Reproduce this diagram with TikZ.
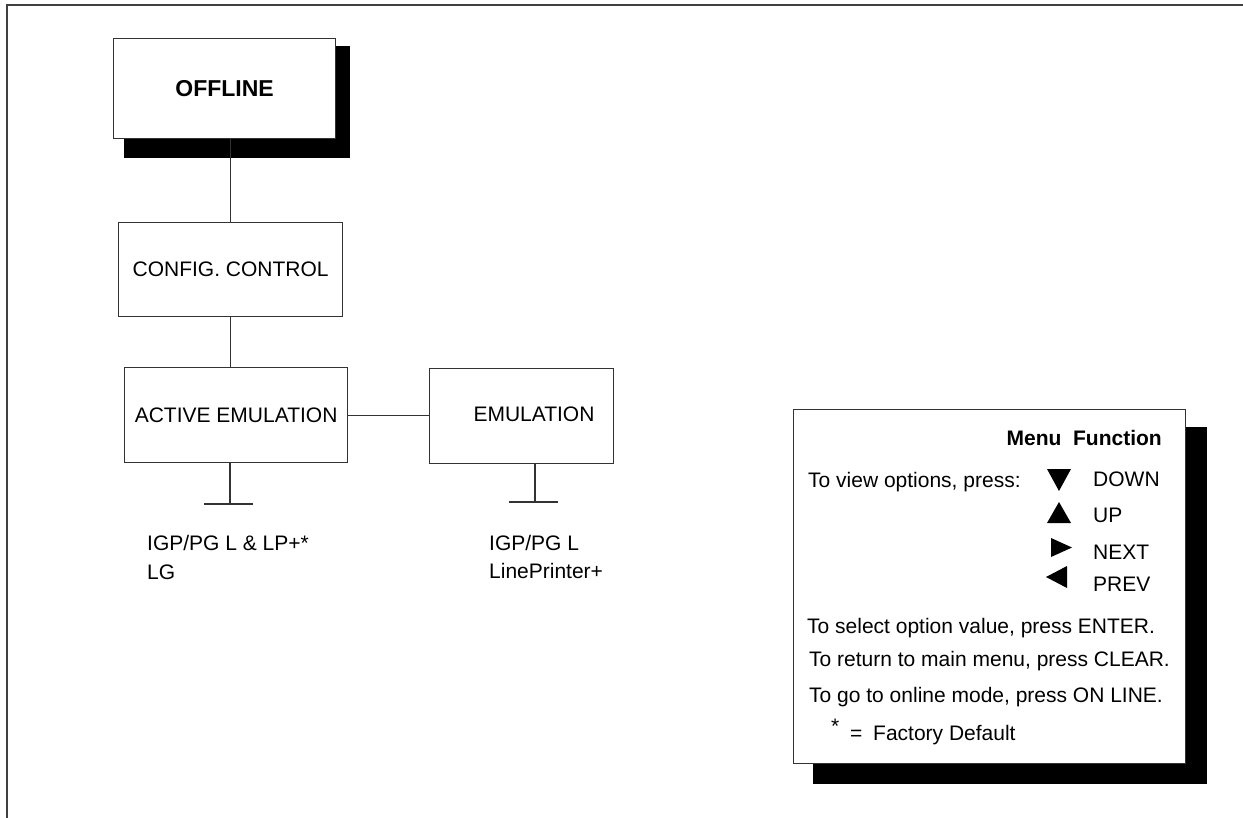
\documentclass[tikz,border=0pt]{standalone}
\usepackage{fontspec}
\setmainfont{Liberation Sans}
\begin{document}
\begin{tikzpicture}[x=1pt,y=-1pt,
  frameline/.style={line width=1.5pt, draw=black!75},
  conn/.style={line width=1.2pt, draw=black!80},
  boxnode/.style={draw=black!80, line width=1.2pt, fill=white, inner sep=0pt, anchor=north west,
    font=\fontsize{21}{25}\selectfont},
  shadowbox/.style={fill=black, draw=none},
  lbl/.style={inner sep=0pt, font=\fontsize{21}{25}\selectfont, anchor=base west},
  tri/.style={fill=black, draw=none}]
\useasboundingbox (0,0) rectangle (1243,818);
\fill[white] (0,0) rectangle (1243,818);
% frame
\draw[frameline] (7,818) -- (7,5) -- (1243,5);

% OFFLINE
\fill[shadowbox] (124,46) rectangle (350,158);
\node[boxnode, minimum width=222pt, minimum height=100pt,
  font=\fontsize{23}{27}\selectfont\bfseries] (offline) at (113,38) {OFFLINE};

% CONFIG
\node[boxnode, minimum width=224pt, minimum height=94pt] (config) at (118,222) {CONFIG. CONTROL};
% ACTIVE
\node[boxnode, minimum width=223pt, minimum height=95pt] (active) at (124,367) {ACTIVE EMULATION};
% EMULATION
\node[boxnode, minimum width=184pt, minimum height=95pt] (emul) at (429,368) {};
\node[lbl, anchor=center] (emultxt) at (534,414) {EMULATION};

% connectors
\draw[conn] (config.north) -- (config.north |- offline.south);
\draw[conn] (config.south) -- (config.south |- active.north);
\draw[conn] (active.east) -- (active.east -| emul.west);
\coordinate (teeA) at (230,504);
\coordinate (teeB) at (535,502);
\draw[conn] (active.south -| teeA) -- (teeA);
\draw[conn] ([xshift=-26pt]teeA) -- ([xshift=23pt]teeA);
\draw[conn] (emul.south -| teeB) -- (teeB);
\draw[conn] ([xshift=-26pt]teeB) -- ([xshift=23pt]teeB);

% option labels
\node[lbl] (optA1) at (147,550) {IGP/PG L \& LP+*};
\node[lbl] (optA2) at (147,579) {LG};
\node[lbl] (optB1) at (489,550) {IGP/PG L};
\node[lbl] (optB2) at (489,578) {LinePrinter+};

% Menu Function legend
\fill[shadowbox] (813,427) rectangle (1207,784);
\node[boxnode, minimum width=392pt, minimum height=354pt] (menu) at (793,409) {};
\node[lbl, anchor=base east, font=\fontsize{21}{25}\selectfont\bfseries] (mf) at (1162,446) {Menu\ \ Function};
\node[lbl] (view) at (808,487) {To view options, press:};
\fill[tri] (1047,469) -- (1071,469) -- (1059,491) -- cycle;
\fill[tri] (1047,523) -- (1071,523) -- (1059,502) -- cycle;
\fill[tri] (1051,538) -- (1051,557) -- (1072,547.5) -- cycle;
\fill[tri] (1067,566) -- (1067,588) -- (1046,577) -- cycle;
\node[lbl] (down) at (1093,486) {DOWN};
\node[lbl] (up) at (1093,522) {UP};
\node[lbl] (next) at (1093,559) {NEXT};
\node[lbl] (prev) at (1093,591) {PREV};
\node[lbl] (sel) at (807,633) {To select option value, press ENTER.};
\node[lbl] (ret) at (809,666) {To return to main menu, press CLEAR.};
\node[lbl] (go) at (809,702) {To go to online mode, press ON LINE.};
\node[lbl] (star) at (831,733) {*};
\node[lbl] (eq) at (850,740) {=};
\node[lbl] (fd) at (873,740) {Factory Default};
\end{tikzpicture}
\end{document}
